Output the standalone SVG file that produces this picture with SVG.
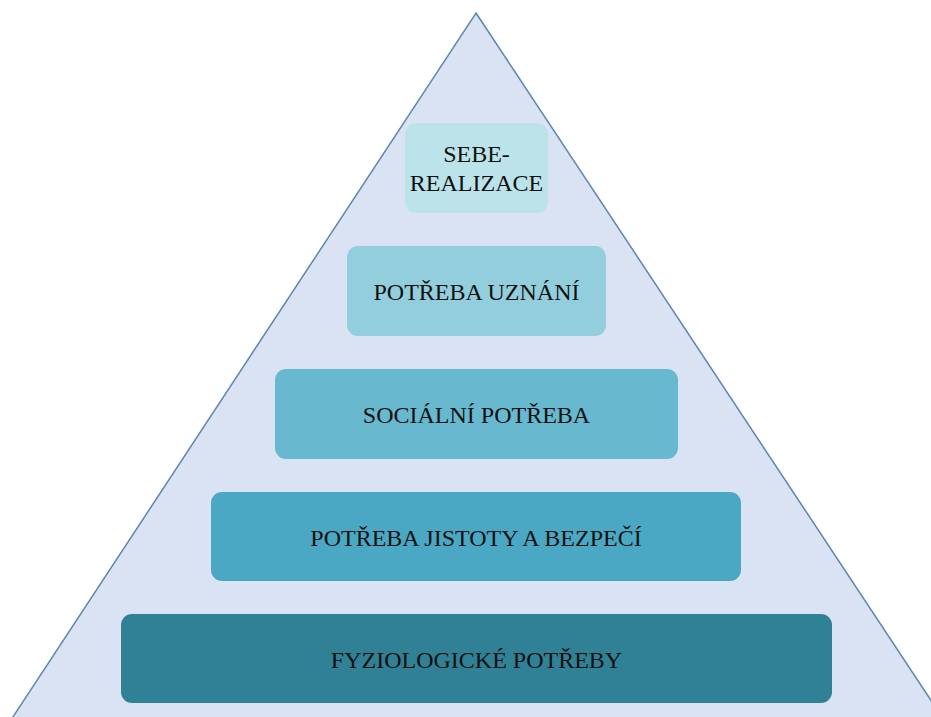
<svg xmlns="http://www.w3.org/2000/svg" width="931" height="717" viewBox="0 0 931 717">
<style>
.lbl{font-family:"Liberation Serif","Times New Roman",serif;font-size:24px;fill:#111;text-anchor:middle}
.box{stroke:none}
</style>
<rect width="931" height="717" fill="#ffffff"/>
<g id="pyramid">
<polygon points="476,13 950,729 5,729" fill="#dae3f3" stroke="#5a86b5" stroke-width="1.5"/>
</g>
<g id="connectors"></g>
<g id="n1">
<rect class="box" x="405" y="123" width="143" height="90" rx="11" fill="#bde3ea"/>
<text class="lbl" x="476.5" y="162">SEBE-</text>
<text class="lbl" x="476.5" y="191">REALIZACE</text>
</g>
<g id="n2">
<rect class="box" x="347" y="246" width="259" height="90" rx="11" fill="#93cedd"/>
<text class="lbl" x="476.5" y="300">POTŘEBA UZNÁNÍ</text>
</g>
<g id="n3">
<rect class="box" x="275" y="369" width="403" height="90" rx="11" fill="#68b8cf"/>
<text class="lbl" x="476.5" y="423">SOCIÁLNÍ POTŘEBA</text>
</g>
<g id="n4">
<rect class="box" x="211" y="492" width="530" height="89" rx="11" fill="#4aa8c4"/>
<text class="lbl" x="476" y="546">POTŘEBA JISTOTY A BEZPEČÍ</text>
</g>
<g id="n5">
<rect class="box" x="121" y="614" width="711" height="89" rx="11" fill="#318196"/>
<text class="lbl" x="476.5" y="668">FYZIOLOGICKÉ POTŘEBY</text>
</g>
</svg>
